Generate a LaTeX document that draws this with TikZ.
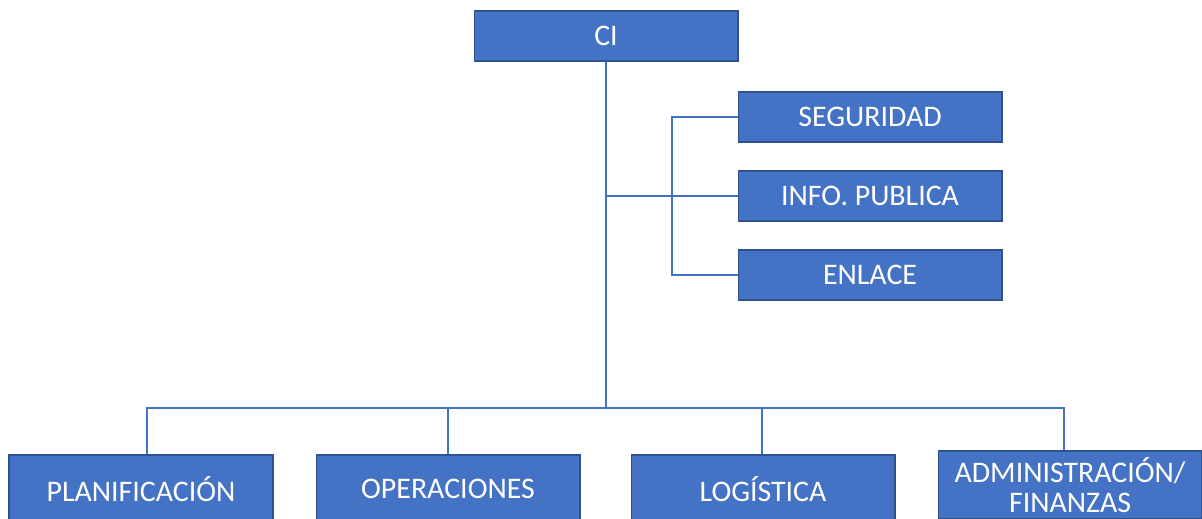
\documentclass[tikz,border=0pt]{standalone}
\usepackage{fontspec}
\setmainfont{Carlito}
\usetikzlibrary{positioning}
\definecolor{boxblue}{HTML}{4472C4}
\definecolor{boxedge}{HTML}{2F528F}

\begin{document}
\begin{tikzpicture}[x=0.02cm, y=-0.02cm,
	unit/.style={draw=boxedge, fill=boxblue, text=white, line width=0.6pt,
		minimum width=5.28cm, minimum height=1cm, inner sep=0pt,
		font=\fontsize{17}{19}\selectfont, align=center},
	section/.style={unit, minimum height=1.36cm},
	link/.style={draw=boxblue, line width=0.8pt}]

	\clip (0,0) rectangle (1202,518);
	\fill[white] (0,0) rectangle (1202,518);

	% command
	\node[unit] (ci) at (606,36) {CI};
	% staff on the right
	\node[unit] (segu) at (870,117) {SEGURIDAD};
	\node[unit] (info) at (870,196) {INFO. PUBLICA};
	\node[unit] (enla) at (870,275) {ENLACE};
	% sections, bottom row
	\node[section] (plan) at (141,489) {PLANIFICACIÓN};
	\node[section] (oper) at (448,489) {OPERACIONES};
	\node[section] (logi) at (763,489) {LOGÍSTICA};
	\node[section, font=\fontsize{17}{17}\selectfont] (admi) at (1070,485) {ADMINISTRACIÓN/\\FINANZAS};

	\coordinate (bus) at (606,408);
	\coordinate (side) at (672,196);

	% trunk
	\draw[link] (ci.south) -- (bus);
	\draw[link] (ci.south |- info) -- (info.west);
	\draw[link] (segu.west) -| (side) |- (enla.west);
	% bus to sections
	\draw[link] ([xshift=0.12cm]plan.north) |- (bus) -| ([xshift=-0.12cm]admi.north);
	\draw[link] (oper.north) -- (oper.north |- bus);
	\draw[link] ([xshift=-0.02cm]logi.north) -- ([xshift=-0.02cm]logi.north |- bus);

\end{tikzpicture}
\end{document}
